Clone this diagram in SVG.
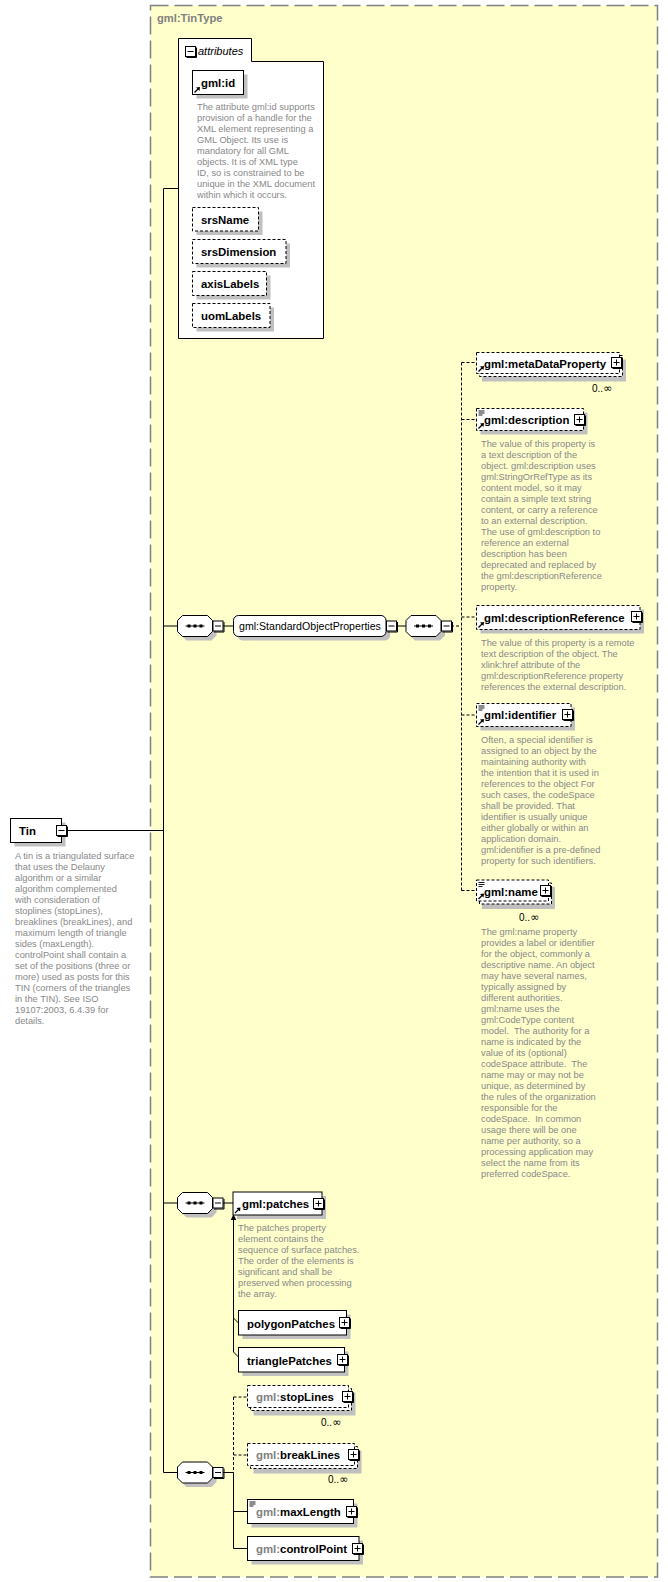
<svg xmlns="http://www.w3.org/2000/svg" xmlns:xlink="http://www.w3.org/1999/xlink" width="668" height="1582" viewBox="0 0 668 1582">
<style>
.lbl{font-family:"Liberation Sans",Arial,sans-serif;font-size:11.4px;font-weight:bold;fill:#000}
.gry{fill:#808080}
.reg{font-family:"Liberation Sans",Arial,sans-serif;font-size:10.6px;fill:#000}
.desc{font-family:"Liberation Sans",Arial,sans-serif;font-size:9.3px;fill:#888;white-space:pre}
.occ{font-family:"Liberation Sans",Arial,sans-serif;font-size:10px;fill:#000}
.inf{font-family:"DejaVu Sans",sans-serif;font-size:11px}
.box{fill:#fff;stroke:#000;stroke-width:1}
.opt{fill:#fff;stroke:#000;stroke-width:1;stroke-dasharray:3 2}
.shd{fill:#c0c0c0}
.ln{fill:none;stroke:#000;stroke-width:1}
.dl{fill:none;stroke:#000;stroke-width:1;stroke-dasharray:3 2}
</style>
<defs>
<g id="minus"><rect x="0.5" y="0.5" width="10" height="10" fill="#fff" stroke="#000"/><path d="M11.5 1.5V11.5H1.5" fill="none" stroke="#000"/><path d="M2.5 5.5H8.5" stroke="#000"/></g>
<g id="plus"><rect x="0.5" y="0.5" width="10" height="10" fill="#fff" stroke="#000"/><path d="M11.5 1.5V11.5H1.5" fill="none" stroke="#000"/><path d="M2.5 5.5H8.5M5.5 2.5V8.5" stroke="#000"/></g>
<g id="seq">
<path d="M5 0H30L35 5V16L30 21H5L0 16V5Z" transform="translate(4,4)" fill="#c0c0c0"/>
<path d="M5 0H30L35 5V16L30 21H5L0 16V5Z" fill="#fff" stroke="#000"/>
<path d="M8 10.5H27" stroke="#000"/>
<rect x="10" y="9" width="3" height="3" fill="#000"/><rect x="16" y="9" width="3" height="3" fill="#000"/><rect x="22" y="9" width="3" height="3" fill="#000"/>
<use xlink:href="#minus" x="35" y="5"/>
</g>
<g id="ref"><path d="M2 -2L6 -6" stroke="#000" stroke-width="1.2"/><path d="M7.5 -7.5L3.5 -7L7 -3.5Z" fill="#000"/></g>
<g id="simple"><path d="M2 2.5H8M2 4.5H8M2 6.5H6" stroke="#000" stroke-width="0.9"/></g>
</defs>

<g id="tintype">
<rect x="150.5" y="5.5" width="507" height="1571.5" fill="#ffffcc" stroke="#808080" stroke-width="1.5" stroke-dasharray="18 6"/>
<text x="157" y="22" class="lbl gry" style="font-size:11.2px">gml:TinType</text>
</g>

<g id="connectors">
<path class="ln" d="M163.5 188.5V1472.5M163.5 188.5H178M67 830.5H163.5M163.5 626H177.5M222.5 626H233.5M397 626H406"/>
<path class="dl" d="M451 626H461.5M461.5 362.5V890.5M461.5 362.5H476M461.5 419.5H476M461.5 617H476M461.5 715H476M461.5 890.5H476"/>
<path class="ln" d="M163.5 1203H177.5M222.5 1203H233M233.5 1219V1352M233.5 1318L238.5 1323M233.5 1352L238.5 1357"/>
<path d="M233.5 1214L230.8 1220H236.2Z" fill="#000"/>
<path class="ln" d="M163.5 1472.5H177.5M222.5 1472.5H233.5M233.5 1472.5V1548.5M233.5 1511.5H247.5M233.5 1548.5H247.5"/>
<path class="dl" d="M233.5 1397V1472.5M233.5 1397H247.5M233.5 1455H247.5"/>
</g>

<g id="attributes">
<path d="M178.5 338.5V38.5H251.5V61.5H323.5V338.5Z" fill="#fff" stroke="#000"/>
<use xlink:href="#minus" x="185" y="46"/>
<text x="198" y="55" style="font-family:'Liberation Sans',Arial,sans-serif;font-size:11px;font-style:italic">attributes</text>
</g>

<g id="gml-id">
<rect class="shd" x="196.5" y="74.5" width="51" height="24"/>
<rect class="box" x="192.5" y="70.5" width="51" height="24"/>
<text class="lbl" x="201" y="86.5">gml:id</text>
<use xlink:href="#ref" x="192.5" y="94.5"/>
<text class="desc" y="110"><tspan x="197">The attribute gml:id supports</tspan><tspan x="197" dy="11">provision of a handle for the</tspan><tspan x="197" dy="11">XML element representing a</tspan><tspan x="197" dy="11">GML Object. Its use is</tspan><tspan x="197" dy="11">mandatory for all GML</tspan><tspan x="197" dy="11">objects. It is of XML type</tspan><tspan x="197" dy="11">ID, so is constrained to be</tspan><tspan x="197" dy="11">unique in the XML document</tspan><tspan x="197" dy="11">within which it occurs.</tspan></text>
</g>

<g id="srsName">
<rect class="shd" x="196.5" y="211.5" width="66" height="23.5"/>
<rect class="opt" x="192.5" y="207.5" width="66" height="23.5"/>
<text class="lbl" x="201" y="223.5">srsName</text>
</g>
<g id="srsDimension">
<rect class="shd" x="196.5" y="243.5" width="93.5" height="24"/>
<rect class="opt" x="192.5" y="239.5" width="93.5" height="24"/>
<text class="lbl" x="201" y="256">srsDimension</text>
</g>
<g id="axisLabels">
<rect class="shd" x="196.5" y="275.5" width="74" height="24"/>
<rect class="opt" x="192.5" y="271.5" width="74" height="24"/>
<text class="lbl" x="201" y="288">axisLabels</text>
</g>
<g id="uomLabels">
<rect class="shd" x="196.5" y="307.5" width="77.5" height="24"/>
<rect class="opt" x="192.5" y="303.5" width="77.5" height="24"/>
<text class="lbl" x="201" y="320">uomLabels</text>
</g>

<g id="Tin">
<rect class="shd" x="14.5" y="822.5" width="51" height="24"/>
<rect class="box" x="10.5" y="818.5" width="51" height="24"/>
<text class="lbl" x="19" y="835">Tin</text>
<use xlink:href="#minus" x="56" y="825"/>
<text class="desc" y="858.5"><tspan x="15">A tin is a triangulated surface</tspan><tspan x="15" dy="11">that uses the Delauny</tspan><tspan x="15" dy="11">algorithm or a similar</tspan><tspan x="15" dy="11">algorithm complemented</tspan><tspan x="15" dy="11">with consideration of</tspan><tspan x="15" dy="11">stoplines (stopLines),</tspan><tspan x="15" dy="11">breaklines (breakLines), and</tspan><tspan x="15" dy="11">maximum length of triangle</tspan><tspan x="15" dy="11">sides (maxLength).</tspan><tspan x="15" dy="11">controlPoint shall contain a</tspan><tspan x="15" dy="11">set of the positions (three or</tspan><tspan x="15" dy="11">more) used as posts for this</tspan><tspan x="15" dy="11">TIN (corners of the triangles</tspan><tspan x="15" dy="11">in the TIN). See ISO</tspan><tspan x="15" dy="11">19107:2003, 6.4.39 for</tspan><tspan x="15" dy="11">details.</tspan></text>
</g>

<g id="seq1"><use xlink:href="#seq" x="177.5" y="615.5"/></g>

<g id="StandardObjectProperties">
<rect class="shd" x="237.5" y="619.5" width="152.5" height="21" rx="5"/>
<rect class="box" x="233.5" y="615.5" width="152.5" height="21" rx="5"/>
<text class="reg" x="239" y="630">gml:StandardObjectProperties</text>
<use xlink:href="#minus" x="386" y="620.5"/>
</g>

<g id="seq2"><use xlink:href="#seq" x="406" y="615.5"/></g>

<g id="metaDataProperty">
<rect class="shd" x="482" y="359.5" width="144" height="22"/>
<rect class="opt" x="479.5" y="355.5" width="143" height="21"/>
<rect class="opt" x="476.5" y="352.5" width="143" height="21"/>
<text class="lbl" x="484" y="367.5">gml:metaDataProperty</text>
<use xlink:href="#plus" x="611" y="357"/>
<use xlink:href="#ref" x="476.5" y="373.5"/>
<text class="occ" x="592" y="392">0..<tspan class="inf">∞</tspan></text>
</g>

<g id="description">
<rect class="shd" x="480.5" y="412.5" width="107" height="22"/>
<rect class="opt" x="476.5" y="408.5" width="107" height="22"/>
<use xlink:href="#simple" x="476.5" y="408.5"/>
<text class="lbl" x="484" y="424">gml:description</text>
<use xlink:href="#plus" x="574" y="414"/>
<use xlink:href="#ref" x="476.5" y="430.5"/>
<text class="desc" y="447"><tspan x="481">The value of this property is</tspan><tspan x="481" dy="11">a text description of the</tspan><tspan x="481" dy="11">object. gml:description uses</tspan><tspan x="481" dy="11">gml:StringOrRefType as its</tspan><tspan x="481" dy="11">content model, so it may</tspan><tspan x="481" dy="11">contain a simple text string</tspan><tspan x="481" dy="11">content, or carry a reference</tspan><tspan x="481" dy="11">to an external description.</tspan><tspan x="481" dy="11">The use of gml:description to</tspan><tspan x="481" dy="11">reference an external</tspan><tspan x="481" dy="11">description has been</tspan><tspan x="481" dy="11">deprecated and replaced by</tspan><tspan x="481" dy="11">the gml:descriptionReference</tspan><tspan x="481" dy="11">property.</tspan></text>
</g>

<g id="descriptionReference">
<rect class="shd" x="480.5" y="609.5" width="163.5" height="24"/>
<rect class="opt" x="476.5" y="605.5" width="163.5" height="24"/>
<text class="lbl" x="484" y="621.5">gml:descriptionReference</text>
<use xlink:href="#plus" x="631" y="611"/>
<use xlink:href="#ref" x="476.5" y="629.5"/>
<text class="desc" y="646"><tspan x="481">The value of this property is a remote</tspan><tspan x="481" dy="11">text description of the object. The</tspan><tspan x="481" dy="11">xlink:href attribute of the</tspan><tspan x="481" dy="11">gml:descriptionReference property</tspan><tspan x="481" dy="11">references the external description.</tspan></text>
</g>

<g id="identifier">
<rect class="shd" x="480.5" y="707.5" width="94.5" height="23"/>
<rect class="opt" x="476.5" y="703.5" width="94.5" height="23"/>
<use xlink:href="#simple" x="476.5" y="703.5"/>
<text class="lbl" x="484" y="719">gml:identifier</text>
<use xlink:href="#plus" x="562" y="709"/>
<use xlink:href="#ref" x="476.5" y="726.5"/>
<text class="desc" y="743"><tspan x="481">Often, a special identifier is</tspan><tspan x="481" dy="11">assigned to an object by the</tspan><tspan x="481" dy="11">maintaining authority with</tspan><tspan x="481" dy="11">the intention that it is used in</tspan><tspan x="481" dy="11">references to the object For</tspan><tspan x="481" dy="11">such cases, the codeSpace</tspan><tspan x="481" dy="11">shall be provided. That</tspan><tspan x="481" dy="11">identifier is usually unique</tspan><tspan x="481" dy="11">either globally or within an</tspan><tspan x="481" dy="11">application domain.</tspan><tspan x="481" dy="11">gml:identifier is a pre-defined</tspan><tspan x="481" dy="11">property for such identifiers.</tspan></text>
</g>

<g id="name">
<rect class="shd" x="482" y="887" width="73" height="22"/>
<rect class="opt" x="479.5" y="883" width="72" height="21"/>
<rect class="opt" x="476.5" y="880" width="72" height="21"/>
<use xlink:href="#simple" x="476.5" y="880"/>
<text class="lbl" x="484" y="895.5">gml:name</text>
<use xlink:href="#plus" x="540" y="885"/>
<use xlink:href="#ref" x="476.5" y="901"/>
<text class="occ" x="519" y="921">0..<tspan class="inf">∞</tspan></text>
<text class="desc" y="935"><tspan x="481">The gml:name property</tspan><tspan x="481" dy="11">provides a label or identifier</tspan><tspan x="481" dy="11">for the object, commonly a</tspan><tspan x="481" dy="11">descriptive name. An object</tspan><tspan x="481" dy="11">may have several names,</tspan><tspan x="481" dy="11">typically assigned by</tspan><tspan x="481" dy="11">different authorities.</tspan><tspan x="481" dy="11">gml:name uses the</tspan><tspan x="481" dy="11">gml:CodeType content</tspan><tspan x="481" dy="11">model.  The authority for a</tspan><tspan x="481" dy="11">name is indicated by the</tspan><tspan x="481" dy="11">value of its (optional)</tspan><tspan x="481" dy="11">codeSpace attribute.  The</tspan><tspan x="481" dy="11">name may or may not be</tspan><tspan x="481" dy="11">unique, as determined by</tspan><tspan x="481" dy="11">the rules of the organization</tspan><tspan x="481" dy="11">responsible for the</tspan><tspan x="481" dy="11">codeSpace.  In common</tspan><tspan x="481" dy="11">usage there will be one</tspan><tspan x="481" dy="11">name per authority, so a</tspan><tspan x="481" dy="11">processing application may</tspan><tspan x="481" dy="11">select the name from its</tspan><tspan x="481" dy="11">preferred codeSpace.</tspan></text>
</g>

<g id="seq3"><use xlink:href="#seq" x="177.5" y="1192.5"/></g>

<g id="patches">
<rect class="shd" x="237" y="1196" width="89" height="23"/>
<rect class="box" x="233" y="1192" width="89" height="23"/>
<text class="lbl" x="242" y="1208">gml:patches</text>
<use xlink:href="#plus" x="313" y="1198"/>
<use xlink:href="#ref" x="233" y="1215"/>
<text class="desc" y="1231"><tspan x="238">The patches property</tspan><tspan x="238" dy="11">element contains the</tspan><tspan x="238" dy="11">sequence of surface patches.</tspan><tspan x="238" dy="11">The order of the elements is</tspan><tspan x="238" dy="11">significant and shall be</tspan><tspan x="238" dy="11">preserved when processing</tspan><tspan x="238" dy="11">the array.</tspan></text>
</g>

<g id="polygonPatches">
<rect class="shd" x="242.5" y="1314.5" width="108" height="24.5"/>
<rect class="box" x="238.5" y="1310.5" width="108" height="24.5"/>
<text class="lbl" x="247" y="1327.5">polygonPatches</text>
<use xlink:href="#plus" x="339" y="1317"/>
</g>

<g id="trianglePatches">
<rect class="shd" x="242.5" y="1351.5" width="106" height="24.5"/>
<rect class="box" x="238.5" y="1347.5" width="106" height="24.5"/>
<text class="lbl" x="247" y="1364.5">trianglePatches</text>
<use xlink:href="#plus" x="337" y="1354"/>
</g>

<g id="seq4"><use xlink:href="#seq" x="177.5" y="1462"/></g>

<g id="stopLines">
<rect class="shd" x="253.5" y="1392.5" width="102" height="23"/>
<rect class="opt" x="250.5" y="1388.5" width="101" height="22"/>
<rect class="opt" x="247.5" y="1385.5" width="101" height="22"/>
<text class="lbl" x="256" y="1401"><tspan class="gry">gml:</tspan>stopLines</text>
<use xlink:href="#plus" x="342" y="1391"/>
<text class="occ" x="321" y="1426">0..<tspan class="inf">∞</tspan></text>
</g>

<g id="breakLines">
<rect class="shd" x="253.5" y="1450.5" width="108" height="23"/>
<rect class="opt" x="250.5" y="1446.5" width="107" height="22"/>
<rect class="opt" x="247.5" y="1443.5" width="107" height="22"/>
<text class="lbl" x="256" y="1459"><tspan class="gry">gml:</tspan>breakLines</text>
<use xlink:href="#plus" x="348" y="1449"/>
<text class="occ" x="328" y="1483">0..<tspan class="inf">∞</tspan></text>
</g>

<g id="maxLength">
<rect class="shd" x="251.5" y="1503.5" width="106" height="24"/>
<rect class="box" x="247.5" y="1499.5" width="106" height="24"/>
<use xlink:href="#simple" x="247.5" y="1499.5"/>
<text class="lbl" x="256" y="1516"><tspan class="gry">gml:</tspan>maxLength</text>
<use xlink:href="#plus" x="346" y="1506"/>
</g>

<g id="controlPoint">
<rect class="shd" x="251.5" y="1540.5" width="111.5" height="24"/>
<rect class="box" x="247.5" y="1536.5" width="111.5" height="24"/>
<text class="lbl" x="256" y="1553"><tspan class="gry">gml:</tspan>controlPoint</text>
<use xlink:href="#plus" x="352" y="1543"/>
</g>
</svg>
